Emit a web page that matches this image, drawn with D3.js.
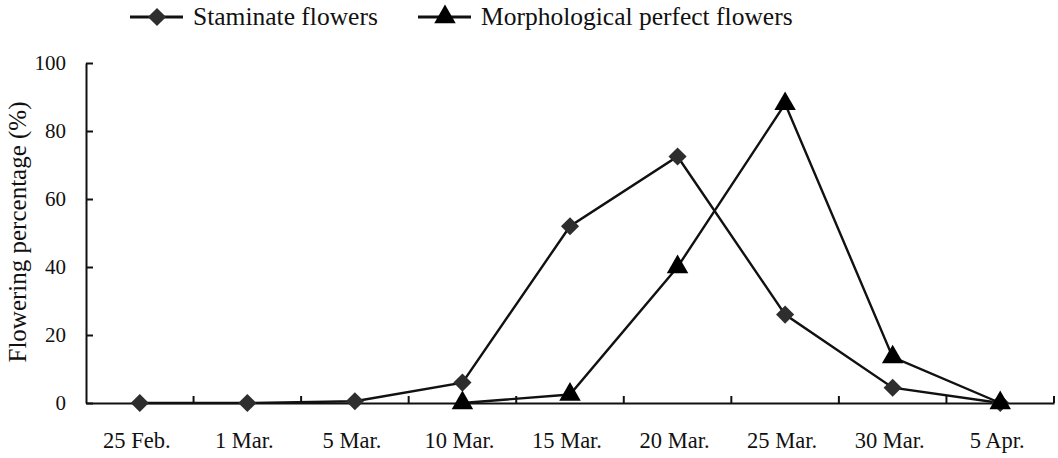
<!DOCTYPE html>
<html><head><meta charset="utf-8">
<script src="https://cdn.jsdelivr.net/npm/d3@7"></script>
<style>body{margin:0;background:#fff}svg{display:block}text{font-family:"Liberation Serif","Times New Roman",serif;fill:#111}</style>
</head><body><svg id="c" width="1058" height="458"></svg>
<script>
const categories = ["25 Feb.","1 Mar.","5 Mar.","10 Mar.","15 Mar.","20 Mar.","25 Mar.","30 Mar.","5 Apr."];
const staminate = [0, 0, 0.5, 6, 52, 72.5, 26, 4.5, 0];
const perfect = [null, null, null, 0, 2.5, 40, 88, 13.5, 0];
const yTicks = [0, 20, 40, 60, 80, 100];
const seriesNames = ["Staminate flowers", "Morphological perfect flowers"];

const svg = d3.select("#c");
const m = {l:86, r:1054, t:63, b:403};
const x = d3.scaleBand().domain(categories).range([m.l, m.r]);
const y = d3.scaleLinear().domain([0,100]).range([m.b, m.t]);
const cx = d => x(d) + x.bandwidth()/2;

// axes
const ya = svg.append("g").attr("transform",`translate(${m.l},0)`)
  .call(d3.axisLeft(y).tickValues(yTicks).tickSizeInner(-7).tickSizeOuter(0).tickPadding(20));
const xa = svg.append("g").attr("transform",`translate(0,${m.b})`)
  .call(d3.axisBottom(x).tickSize(0).tickPadding(28));
[ya,xa].forEach(a=>{a.selectAll("path,line").attr("stroke","#111").attr("stroke-width",2);
  a.selectAll("text").attr("font-family","Liberation Serif").attr("fill","#111");});
ya.selectAll("text").attr("font-size",21);
xa.selectAll("text").attr("font-size",22.5).attr("dy",0).attr("y",45).attr("dx",-3);
// x ticks between categories (inward)
const bounds = categories.map(c=>x(c)).concat([m.r]);
svg.append("g").selectAll("line").data(bounds.slice(1)).join("line")
  .attr("x1",d=>d).attr("x2",d=>d).attr("y1",m.b).attr("y2",m.b-7)
  .attr("stroke","#111").attr("stroke-width",2);

svg.append("text").attr("transform",`translate(26,232) rotate(-90)`)
  .attr("text-anchor","middle").attr("font-size",25).text("Flowering percentage (%)");

const line = d3.line().defined(d=>d.v!==null).x(d=>cx(d.c)).y(d=>y(d.v));
const mk = arr => categories.map((c,i)=>({c, v:arr[i]}));
const diamond = d3.symbol().type(d3.symbolDiamond2).size(210);
const triangle = d3.symbol().type(d3.symbolTriangle).size(200);

function drawSeries(arr, sym, fill){
  const data = mk(arr);
  svg.append("path").datum(data).attr("d",line).attr("fill","none")
    .attr("stroke","#111").attr("stroke-width",2.4);
  svg.append("g").selectAll("path").data(data.filter(d=>d.v!==null)).join("path")
    .attr("d",sym).attr("fill",fill)
    .attr("transform",d=>`translate(${cx(d.c)},${y(d.v)})`);
}
drawSeries(staminate, diamond, "#2e2e2e");
drawSeries(perfect, triangle, "#000");

// legend
const leg = [{x0:130, sym:diamond, fill:"#2e2e2e", name:seriesNames[0]},
             {x0:418, sym:triangle, fill:"#000", name:seriesNames[1]}];
leg.forEach(l=>{
  const g = svg.append("g");
  g.append("line").attr("x1",l.x0).attr("x2",l.x0+53).attr("y1",17).attr("y2",17)
    .attr("stroke","#111").attr("stroke-width",2.8);
  g.append("path").attr("d",l.sym).attr("fill",l.fill).attr("transform",`translate(${l.x0+27},17)`);
  g.append("text").attr("x",l.x0+63).attr("y",25).attr("font-size",25.5).text(l.name);
});
</script></body></html>
